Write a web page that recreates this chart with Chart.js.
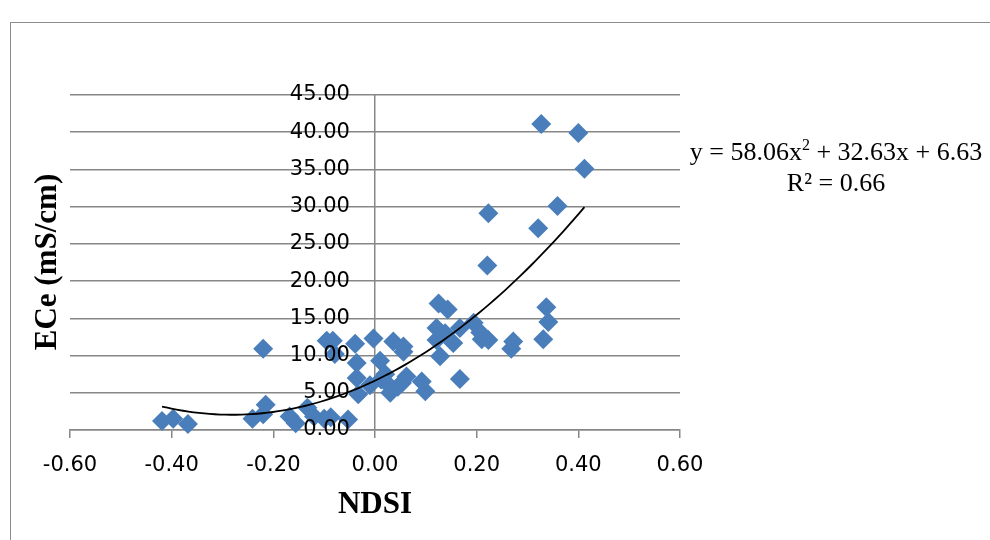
<!DOCTYPE html>
<html lang="en">
<head>
  <meta charset="UTF-8" />
  <title>ECe vs NDSI</title>
  <script src="https://cdn.jsdelivr.net/npm/chart.js"></script>
  <style>
    body {
      margin: 0;
      background: #ffffff;
      width: 990px;
      height: 540px;
      overflow: hidden;
      position: relative;
    }

    .frame {
      position: absolute;
      left: 10px;
      top: 22px;
      width: 1000px;
      height: 600px;
      border-left: 1.5px solid #8c8c8c;
      border-top: 1.5px solid #8c8c8c;
    }

    canvas {
      position: absolute;
      left: 0;
      top: 0;
    }

    .equation {
      position: absolute;
      left: 680px;
      top: 136px;
      width: 312px;
      text-align: center;
      font-family: 'Liberation Serif', serif;
      font-size: 26px;
      line-height: 31px;
      color: #000;
    }

    .equation sup {
      font-size: 16px;
      line-height: 0;
      vertical-align: 10px;
    }
  </style>
</head>
<body>

<div class="frame"></div>
<canvas id="ndsiChart" width="990" height="540"></canvas>
<div class="equation">
  y = 58.06x<sup>2</sup> + 32.63x + 6.63<br>R² = 0.66
</div>

<script>
  // NDSI vs ECe samples
  const ndsi = [
    -0.419, -0.397, -0.368, -0.241, -0.220, -0.215, -0.220, -0.168, -0.156, -0.133,
    -0.120, -0.100, -0.087, -0.053,
    -0.095, -0.083, -0.079, -0.039, -0.003, -0.036, -0.036, -0.033, -0.010, 0.010,
    0.012, 0.026, 0.030, 0.036, 0.056, 0.056, 0.062, 0.053, 0.092, 0.099, 0.020, 0.045,
    0.121, 0.125, 0.143, 0.121, 0.138, 0.128, 0.154, 0.167, 0.167, 0.194,
    0.210, 0.207, 0.223, 0.268, 0.272, 0.331, 0.341, 0.337, 0.221, 0.223,
    0.321, 0.359, 0.327, 0.400, 0.412
  ];
  const ece = [
    1.2, 1.5, 0.8, 1.5, 2.1, 3.4, 10.9, 1.8, 0.9, 3.0,
    1.8, 1.5, 1.7, 1.4,
    12.0, 12.0, 10.2, 11.6, 12.3, 9.0, 7.0, 4.8, 6.0, 9.3,
    6.8, 6.1, 5.0, 11.9, 11.2, 10.5, 7.2, 6.3, 6.5, 5.2, 7.5, 5.8,
    12.1, 17.0, 16.2, 13.7, 13.0, 9.9, 11.7, 13.7, 6.85, 14.4,
    12.2, 13.1, 12.1, 10.9, 11.9, 12.2, 14.5, 16.5, 22.1, 29.1,
    27.1, 30.1, 41.1, 39.9, 35.1
  ];

  const xTicks = [-0.6, -0.4, -0.2, 0, 0.2, 0.4, 0.6];
  const yTicks = [0, 5, 10, 15, 20, 25, 30, 35, 40, 45];

  // polynomial trendline y = a*x^2 + b*x + c
  const fitCoef = [58.06, 32.63, 6.63];

  const GRID = '#878787';
  const BLUE = '#4a7ebb';
  const TICK_FONT = { family: 'DejaVu Sans', size: 21 };

  const points = ndsi.map((x, i) => ({ x: x, y: ece[i] }));

  const xLo = Math.min(...ndsi);
  const xHi = Math.max(...ndsi);
  const trend = [];
  const STEPS = 80;
  for (let i = 0; i <= STEPS; i++) {
    const x = xLo + (xHi - xLo) * i / STEPS;
    trend.push({ x: x, y: fitCoef[0] * x * x + fitCoef[1] * x + fitCoef[2] });
  }

  // rotated y axis title on the left
  const yTitlePlugin = {
    id: 'yTitle',
    afterDraw(chart) {
      const ctx = chart.ctx;
      ctx.save();
      ctx.translate(48, 262);
      ctx.rotate(-Math.PI / 2);
      ctx.font = 'bold 31px "Liberation Serif"';
      ctx.fillStyle = '#000';
      ctx.textAlign = 'center';
      ctx.textBaseline = 'middle';
      ctx.fillText('ECe (mS/cm)', 0, 0);
      ctx.restore();
    }
  };

  const ctx = document.getElementById('ndsiChart').getContext('2d');

  new Chart(ctx, {
    type: 'scatter',
    data: {
      datasets: [
        {
          type: 'line',
          data: trend,
          borderColor: '#000000',
          borderWidth: 1.8,
          pointRadius: 0,
          fill: false,
          tension: 0,
          clip: false
        },
        {
          data: points,
          pointStyle: 'rectRot',
          pointRadius: 10,
          pointHoverRadius: 10,
          backgroundColor: BLUE,
          borderColor: BLUE,
          borderWidth: 0,
          clip: false
        }
      ]
    },
    options: {
      responsive: false,
      animation: false,
      events: [],
      layout: {
        padding: { left: 70, right: 310, top: 95, bottom: 0 }
      },
      plugins: {
        legend: { display: false },
        tooltip: { enabled: false }
      },
      scales: {
        x: {
          type: 'linear',
          min: -0.6,
          max: 0.6,
          afterBuildTicks: s => { s.ticks = xTicks.map(v => ({ value: v })); },
          afterFit: s => { s.height = 110; },
          ticks: {
            callback: v => v.toFixed(2),
            color: '#000',
            font: TICK_FONT,
            padding: 15,
            maxRotation: 0
          },
          grid: {
            // only the zero line crosses the plot (the vertical axis)
            drawOnChartArea: true,
            drawTicks: true,
            tickLength: 8,
            color: c => (c.tick && c.tick.value === 0) ? GRID : 'rgba(0,0,0,0)',
            tickColor: GRID,
            lineWidth: 1.5
          },
          border: { color: GRID, width: 1.5 },
          title: {
            display: true,
            text: 'NDSI',
            color: '#000',
            font: { family: 'Liberation Serif', size: 31, weight: 'bold' },
            padding: { top: 0, bottom: 16 }
          }
        },
        y: {
          type: 'linear',
          position: 'left',
          min: 0,
          max: 45,
          afterBuildTicks: s => { s.ticks = yTicks.map(v => ({ value: v })); },
          afterFit: s => { s.width = 0; },
          ticks: { display: false },
          grid: {
            drawTicks: false,
            color: GRID,
            lineWidth: 1.5
          },
          border: { display: false }
        },
        // value labels sitting just left of the zero line
        yLabels: {
          type: 'linear',
          axis: 'y',
          position: { x: -0.0493 },
          min: 0,
          max: 45,
          afterBuildTicks: s => { s.ticks = yTicks.map(v => ({ value: v })); },
          ticks: {
            callback: v => v.toFixed(2),
            color: '#000',
            font: TICK_FONT,
            padding: 0,
            z: 1
          },
          grid: { display: false, drawTicks: false },
          border: { display: false }
        }
      }
    },
    plugins: [yTitlePlugin]
  });
</script>

</body>
</html>
